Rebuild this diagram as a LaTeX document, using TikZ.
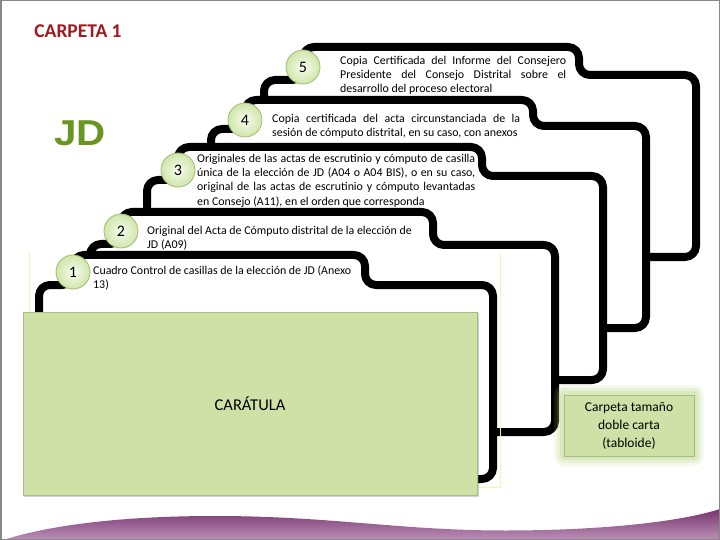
\documentclass[tikz,border=0pt]{standalone}
\usepackage{fontspec}
\setmainfont{Carlito}
\newfontfamily\jdfont{Liberation Sans}
\usetikzlibrary{shadows}

\definecolor{covergreen}{RGB}{207,225,166}
\definecolor{coverborder}{RGB}{168,188,128}
\definecolor{glowgreen}{RGB}{175,210,120}
\definecolor{circin}{RGB}{247,252,238}
\definecolor{circout}{RGB}{208,230,170}
\definecolor{circborder}{RGB}{160,188,112}
\definecolor{carpred}{RGB}{160,26,30}
\definecolor{jdgreen}{RGB}{104,150,32}
\definecolor{purpletop}{RGB}{118,52,110}
\definecolor{purplebot}{RGB}{188,145,184}
\definecolor{framegray}{RGB}{135,135,135}
\definecolor{faintyellow}{RGB}{248,244,170}

\newcommand\myfolder[8]{%
  \draw[folderline] (#1,#8) -- (#1,#2) -- (#3,#2) -- (#3,#4) -- (#5,#4) -- (#5,#6) -- (#7,#6) -- (#7,#8) -- cycle;}

\begin{document}
\begin{tikzpicture}[x=1bp,y=-1bp,
  folderline/.style={draw=black, fill=white, line width=8bp, rounded corners=11bp, line join=round},
  numcirc/.style={circle, minimum size=34bp, inner sep=0pt, draw=circborder, line width=0.8bp,
    shade, inner color=circin, outer color=circout, font=\fontsize{16bp}{18bp}\selectfont},
  desc/.style={anchor=north west, inner sep=0pt, align=left, font=\fontsize{11.9bp}{14.3bp}\selectfont},
  greenbox/.style={rectangle, fill=covergreen, draw=coverborder, line width=0.8bp, inner sep=0pt},
]
\useasboundingbox (0,0) rectangle (720,540);
\fill[white] (0,0) rectangle (720,540);

% bottom swoosh
\shade[top color=purpletop, bottom color=purplebot]
  (3,540) .. controls (60,522) and (140,516) .. (215,516)
  .. controls (330,516) and (400,530.5) .. (505,530.5)
  .. controls (600,530.5) and (680,522) .. (720,509) -- (720,540) -- cycle;

% folders, back to front
\myfolder{264}{80}{303}{47}{579}{75}{696}{257}
\myfolder{211}{129}{245}{100}{533}{126}{646}{328}
\myfolder{147}{180}{178}{147}{482}{176}{603}{380}
\myfolder{90}{244}{121}{212}{433}{245}{555}{432}
\myfolder{39}{285}{73}{255}{365}{285}{493}{479}

% faint yellow outline
\draw[faintyellow, line width=1bp] (29,252) -- (29,487) -- (500,487) -- (500,252);

% number circles
\node[numcirc] (c5) at (303,67) {5};
\node[numcirc] (c4) at (245,120) {4};
\node[numcirc] (c3) at (178,170) {3};
\node[numcirc] (c2) at (121,231) {2};
\node[numcirc] (c1) at (73,272) {1};

% texts
\node[desc] (t5) at (340,54) {\strut\makebox[226bp][s]{Copia Certificada del Informe del Consejero}\\
  \makebox[226bp][s]{Presidente del Consejo Distrital sobre el}\\
  desarrollo del proceso electoral};
\node[desc] (t4) at (272,112) {\strut\makebox[248bp][s]{Copia certificada del acta circunstanciada de la}\\
  sesión de cómputo distrital, en su caso, con anexos};
\node[desc] (t3) at (197,152) {\strut\makebox[278bp][s]{Originales de las actas de escrutinio y cómputo de casilla}\\
  \makebox[278bp][s]{única de la elección de JD (A04 o A04 BIS), o en su caso,}\\
  \makebox[278bp][s]{original de las actas de escrutinio y cómputo levantadas}\\
  en Consejo (A11), en el orden que corresponda};
\node[desc] (t2) at (147,224) {\strut Original del Acta de Cómputo distrital de la elección de\\ JD (A09)};
\node[desc] (t1) at (93,264) {\strut Cuadro Control de casillas de la elección de JD (Anexo\\ 13)};

% titles
\node[font=\fontsize{19.5bp}{21bp}\selectfont\bfseries, text=carpred, inner sep=0pt] (title) at (78,31) {CARPETA 1};
\node[font=\jdfont\fontsize{36bp}{38bp}\selectfont\bfseries, text=jdgreen, inner sep=0pt] (jd) at (80,133) {\scalebox{1.12}[1]{JD}};

% cover
\node[greenbox, minimum width=454bp, minimum height=183bp,
  drop shadow={shadow xshift=1.5bp, shadow yshift=-1.5bp, opacity=0.35},
  font=\fontsize{16.5bp}{18bp}\selectfont] (cover) at (250,403.5) {CARÁTULA};

% carpeta box with glow
\foreach \g/\o in {10/0.12, 7/0.18, 4/0.25}{
  \fill[glowgreen, opacity=\o, rounded corners=\g bp] (564-\g,395-\g) rectangle (694+\g,456+\g);
}
\node[greenbox, minimum width=130bp, minimum height=61bp, align=center,
  font=\fontsize{13.5bp}{18bp}\selectfont] (size) at (629,425.5) {Carpeta tamaño\\ doble carta\\ (tabloide)};

% frame
\draw[framegray, line width=1.5bp] (0.75,0.75) rectangle (719.25,539.25);
\end{tikzpicture}
\end{document}
